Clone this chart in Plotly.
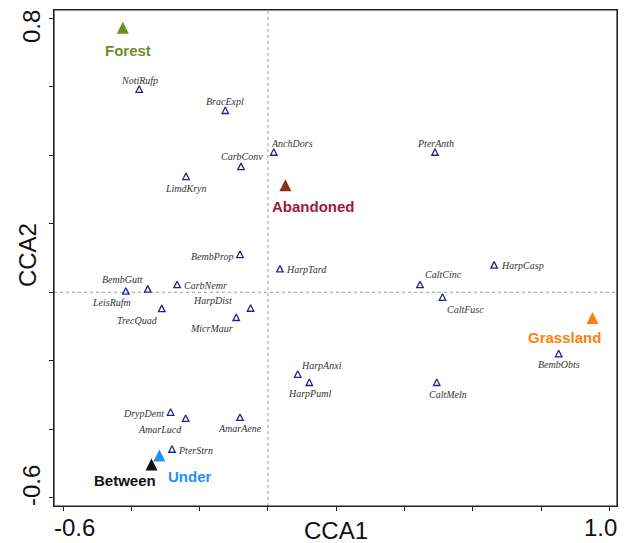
import plotly.graph_objects as go

# ---- species scores on the first two constrained axes ----
species = ["NotiRufp", "BracExpl", "AnchDors", "CarbConv", "LimdKryn", "PterAnth",
           "BembProp", "HarpTard", "HarpCasp", "CaltCinc", "CaltFusc", "BembGutt",
           "LeisRufm", "CarbNemr", "TrecQuad", "HarpDist", "MicrMaur", "HarpAnxi",
           "HarpPuml", "CaltMeln", "BembObts", "DrypDent", "AmarLucd", "AmarAene",
           "PterStrn"]
sp_cca1 = [-0.377, -0.125, 0.017, -0.079, -0.240, 0.489,
           -0.082, 0.035, 0.662, 0.445, 0.511, -0.416,
           -0.352, -0.266, -0.311, -0.051, -0.093, 0.087,
           0.121, 0.494, 0.851, -0.285, -0.241, -0.082,
           -0.281]
sp_cca2 = [0.594, 0.532, 0.410, 0.368, 0.339, 0.410,
           0.111, 0.069, 0.080, 0.023, -0.014, 0.004,
           0.010, 0.023, -0.047, -0.046, -0.073, -0.239,
           -0.263, -0.263, -0.179, -0.350, -0.368, -0.365,
           -0.458]

# ---- habitat centroids ----
habitats = ["Forest", "Abandoned", "Grassland", "Under", "Between"]
hab_cca1 = [-0.425, 0.051, 0.950, -0.318, -0.341]
hab_cca2 = [0.773, 0.313, -0.075, -0.477, -0.503]

# ---- axis ticks (only the end values carry a label) ----
x_ticks = [-0.6, -0.4, -0.2, 0.0, 0.2, 0.4, 0.6, 0.8, 1.0]
y_ticks = [-0.6, -0.4, -0.2, 0.0, 0.2, 0.4, 0.6, 0.8]
x_end_labels = ["-0.6", "1.0"]
y_end_labels = ["-0.6", "0.8"]

# label placement (pixel offsets: right, down) and colours
sp_label_offset = {
    "NotiRufp": (0, -9), "BracExpl": (0, -9), "AnchDors": (18, -9),
    "CarbConv": (1, -10), "LimdKryn": (0, 12), "PterAnth": (0, -9),
    "BembProp": (-28, 2), "HarpTard": (27, 1), "HarpCasp": (28, 1),
    "CaltCinc": (23, -10), "CaltFusc": (23, 12), "BembGutt": (-3, -11),
    "LeisRufm": (-36, 14), "CarbNemr": (28, 1), "TrecQuad": (-24, 12),
    "HarpDist": (-38, -8), "MicrMaur": (-25, 11), "HarpAnxi": (24, -9),
    "HarpPuml": (0, 11), "CaltMeln": (11, 12), "BembObts": (0, 11),
    "DrypDent": (-27, 1), "AmarLucd": (-26, 11), "AmarAene": (0, 11),
    "PterStrn": (24, 1),
}
hab_label_offset = {
    "Forest": (5, 23), "Abandoned": (28, 21), "Grassland": (-28, 20),
    "Under": (31, 21), "Between": (-26, 16),
}
hab_marker_color = {
    "Forest": "#6B8E23", "Abandoned": "#8B2E23", "Grassland": "#FF7F0E",
    "Under": "#1E90FF", "Between": "#111111",
}
hab_text_color = {
    "Forest": "#6B8E23", "Abandoned": "#A0183A", "Grassland": "#FF7F0E",
    "Under": "#1E90FF", "Between": "#111111",
}

SANS = "Liberation Sans, Arial, sans-serif"
SERIF = "Liberation Serif, Times New Roman, serif"
BIG = dict(family=SANS, size=24, color="#111111")

fig = go.Figure()

# species: small open triangles
SP_SIZE = 6.5
fig.add_trace(go.Scatter(
    x=sp_cca1, y=sp_cca2, mode="markers", text=species, hoverinfo="text",
    marker=dict(symbol="arrow-down-open", angle=180, standoff=SP_SIZE / 2,
                size=SP_SIZE, color="#23238E", line=dict(color="#23238E", width=1.3)),
    showlegend=False,
))

# habitat centroids: large filled triangles
HAB_SIZE = 12
fig.add_trace(go.Scatter(
    x=hab_cca1, y=hab_cca2, mode="markers", text=habitats, hoverinfo="text",
    marker=dict(symbol="arrow-down", angle=180, standoff=HAB_SIZE / 2,
                size=HAB_SIZE, color=[hab_marker_color[h] for h in habitats],
                line=dict(width=0)),
    showlegend=False,
))

annotations = []
for name, x, y in zip(species, sp_cca1, sp_cca2):
    dx, dy = sp_label_offset[name]
    annotations.append(dict(
        x=x, y=y, xref="x", yref="y", text=f"<i>{name}</i>", showarrow=False,
        xshift=dx, yshift=-dy, xanchor="center", yanchor="middle",
        font=dict(family=SERIF, size=10, color="#333333"),
    ))
for name, x, y in zip(habitats, hab_cca1, hab_cca2):
    dx, dy = hab_label_offset[name]
    annotations.append(dict(
        x=x, y=y, xref="x", yref="y", text=f"<b>{name}</b>", showarrow=False,
        xshift=dx, yshift=-dy, xanchor="center", yanchor="middle",
        font=dict(family=SANS, size=15, color=hab_text_color[name]),
    ))

# end-of-axis numbers, set flush with the frame
annotations += [
    dict(x=0, y=-0.0435, xref="paper", yref="paper", text=x_end_labels[0],
         showarrow=False, xanchor="left", yanchor="middle", xshift=-2, font=BIG),
    dict(x=1, y=-0.0435, xref="paper", yref="paper", text=x_end_labels[1],
         showarrow=False, xanchor="right", yanchor="middle", xshift=2, font=BIG),
    dict(x=-0.04, y=0, xref="paper", yref="paper", text=y_end_labels[0],
         textangle=-90, showarrow=False, xanchor="center", yanchor="bottom",
         yshift=-2, font=BIG),
    dict(x=-0.04, y=1, xref="paper", yref="paper", text=y_end_labels[1],
         textangle=-90, showarrow=False, xanchor="center", yanchor="top",
         yshift=2, font=BIG),
]

# axis titles
annotations.append(dict(x=0.5, y=-0.049, xref="paper", yref="paper", text="CCA1",
                        showarrow=False, xanchor="center", yanchor="middle", font=BIG))
annotations.append(dict(x=-0.047, y=0.505, xref="paper", yref="paper", text="CCA2",
                        textangle=-90, showarrow=False, xanchor="center",
                        yanchor="middle", font=BIG))

axis_common = dict(
    showgrid=False, zeroline=False, showline=True, mirror=True,
    linecolor="#222222", linewidth=1, ticks="outside", ticklen=4,
    tickcolor="#222222", tickwidth=1, automargin=False,
    showticklabels=False, tickmode="array",
)

fig.update_layout(
    template="none",
    width=629, height=543,
    margin=dict(l=54, r=12, t=10, b=37),
    paper_bgcolor="white", plot_bgcolor="white",
    xaxis=dict(range=[-0.6264, 1.0217], tickvals=x_ticks, **axis_common),
    yaxis=dict(range=[-0.6246, 0.825], tickvals=y_ticks, **axis_common),
    annotations=annotations,
    shapes=[
        dict(type="line", xref="x", yref="paper", x0=0, x1=0, y0=0, y1=1,
             line=dict(color="#9a9a9a", width=1, dash="dot"), layer="below"),
        dict(type="line", xref="paper", yref="y", x0=0, x1=1, y0=0, y1=0,
             line=dict(color="#9a9a9a", width=1, dash="dot"), layer="below"),
        # plot frame
        dict(type="rect", xref="paper", yref="paper", x0=0, x1=1, y0=0, y1=1,
             line=dict(color="#222222", width=1.2), fillcolor="rgba(0,0,0,0)",
             layer="above"),
    ],
)

fig.write_html("out.html")
